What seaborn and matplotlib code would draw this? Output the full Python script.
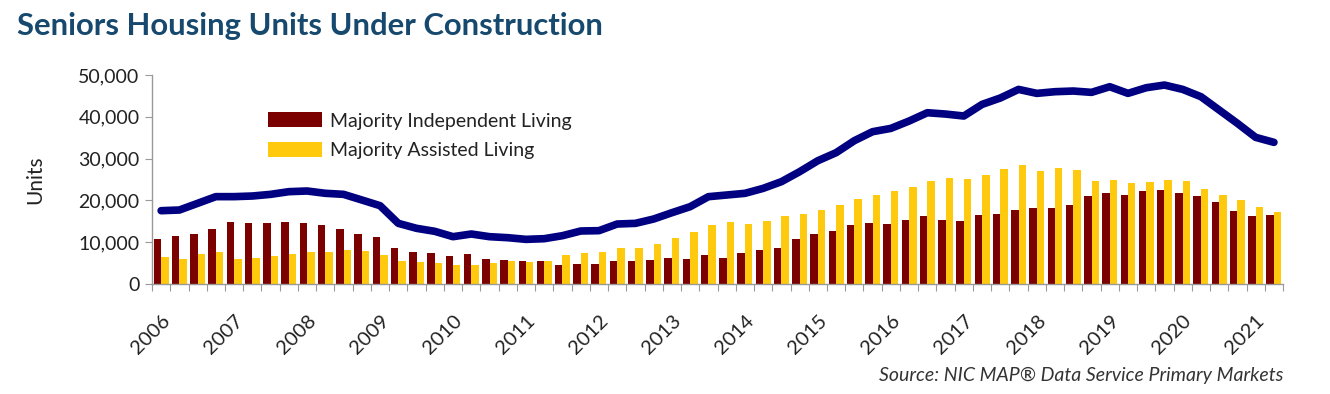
import numpy as np
import pandas as pd
import matplotlib
matplotlib.use("Agg")
import matplotlib.pyplot as plt
import seaborn as sns

# quarterly data, 2006 Q1 .. 2021 Q2
years = list(range(2006, 2022))
quarters = [f"{y}Q{q}" for y in years for q in range(1, 5)][:62]

independent = [10770, 11560, 11960, 13240, 14750, 14670, 14510, 14830, 14510, 14110,
               13240, 11960, 11240, 8610, 7580, 7340, 6780, 7100, 5980, 5660,
               5580, 5500, 4540, 4860, 4700, 5420, 5500, 5660, 6220, 6060,
               6860, 6220, 7340, 8050, 8530, 10680, 11880, 12600, 14030, 14670,
               14430, 15310, 16190, 15310, 14990, 16430, 16830, 17700, 18260, 18260,
               18820, 21130, 21850, 21210, 22250, 22480, 21690, 21130, 19530, 17540,
               16270, 16430]
assisted = [6400, 6000, 7180, 7580, 6060, 6220, 6620, 7100, 7740, 7660,
            8050, 7900, 7020, 5420, 5340, 4950, 4470, 4470, 5100, 5420,
            5260, 5420, 6860, 7500, 7730, 8690, 8530, 9650, 10920, 12360,
            14030, 14750, 14350, 14990, 16350, 16660, 17780, 18980, 20410, 21290,
            22330, 23280, 24720, 25360, 25200, 25990, 27430, 28550, 27110, 27830,
            27270, 24560, 24880, 24240, 24400, 24960, 24640, 22800, 21210, 20010,
            18340, 17220]
total = [17540, 17700, 19300, 20900, 20900, 21050, 21450, 22090, 22250, 21700,
         21450, 20100, 18740, 14510, 13320, 12600, 11320, 11960, 11320, 11080,
         10680, 10840, 11560, 12680, 12760, 14350, 14510, 15550, 17060, 18500,
         20890, 21290, 21690, 22880, 24480, 26870, 29500, 31420, 34290, 36440,
         37230, 38990, 40980, 40660, 40190, 42970, 44500, 46560, 45610, 46010,
         46170, 45850, 47200, 45610, 46960, 47600, 46560, 44810, 41620, 38430,
         35080, 33890]

series_names = ["Majority Independent Living", "Majority Assisted Living"]

df = pd.DataFrame({
    "quarter": quarters * 2,
    "units": independent + assisted,
    "type": [series_names[0]] * 62 + [series_names[1]] * 62,
})

sns.set_style("white")
plt.rcParams["font.family"] = ["Lato", "DejaVu Sans"]

fig = plt.figure(figsize=(13.3, 3.94), dpi=100)
ax = fig.add_axes([0.1143, 0.2792, 0.8504, 0.5304])

sns.barplot(data=df, x="quarter", y="units", hue="type",
            palette=["#7b0000", "#ffc90e"], width=0.82, saturation=1,
            ax=ax, linewidth=0)
sns.lineplot(x=np.arange(62), y=total, color="#000080", linewidth=5.5,
             ax=ax, legend=False, solid_capstyle="round", zorder=5)

ax.set_xlim(-0.5, 61.5)
ax.set_ylim(0, 50000)
ax.set_yticks(range(0, 50001, 10000))
ax.set_yticklabels([f"{v:,}" for v in range(0, 50001, 10000)], fontsize=14, color="#222222")
ax.set_ylabel("Units", fontsize=15, color="#222222", labelpad=24)
ax.set_xlabel("")

ax.set_xticks(np.arange(-0.5, 62, 1))
ax.set_xticklabels([])
ax.set_xticks(np.arange(0, 62, 4), minor=True)
ax.set_xticklabels([str(y) for y in years], minor=True, rotation=45,
                   ha="right", rotation_mode="anchor", fontsize=14.5, color="#222222")
ax.tick_params(axis="x", which="major", length=5, color="#999999", bottom=True)
ax.tick_params(axis="x", which="minor", length=0, pad=20)
ax.tick_params(axis="y", length=5, color="#999999", left=True, pad=4)

for s in ["top", "right"]:
    ax.spines[s].set_visible(False)
for s in ["left", "bottom"]:
    ax.spines[s].set_color("#999999")
    ax.spines[s].set_linewidth(1)

ax.legend(loc="upper left", bbox_to_anchor=(0.087, 0.905), frameon=False,
          fontsize=14, handlelength=2.8, handleheight=0.8, labelspacing=0.65,
          handletextpad=0.4, labelcolor="#222222")

fig.text(0.013, 0.935, "Seniors Housing Units Under Construction", fontsize=22.3,
         fontweight="bold", color="#17496f", va="center")
fig.text(0.9647, 0.025, "Source: NIC MAP\u00ae Data Service Primary Markets",
         fontsize=14, style="italic", color="#333333", ha="right", va="bottom")

fig.savefig("out.png", dpi=100)
